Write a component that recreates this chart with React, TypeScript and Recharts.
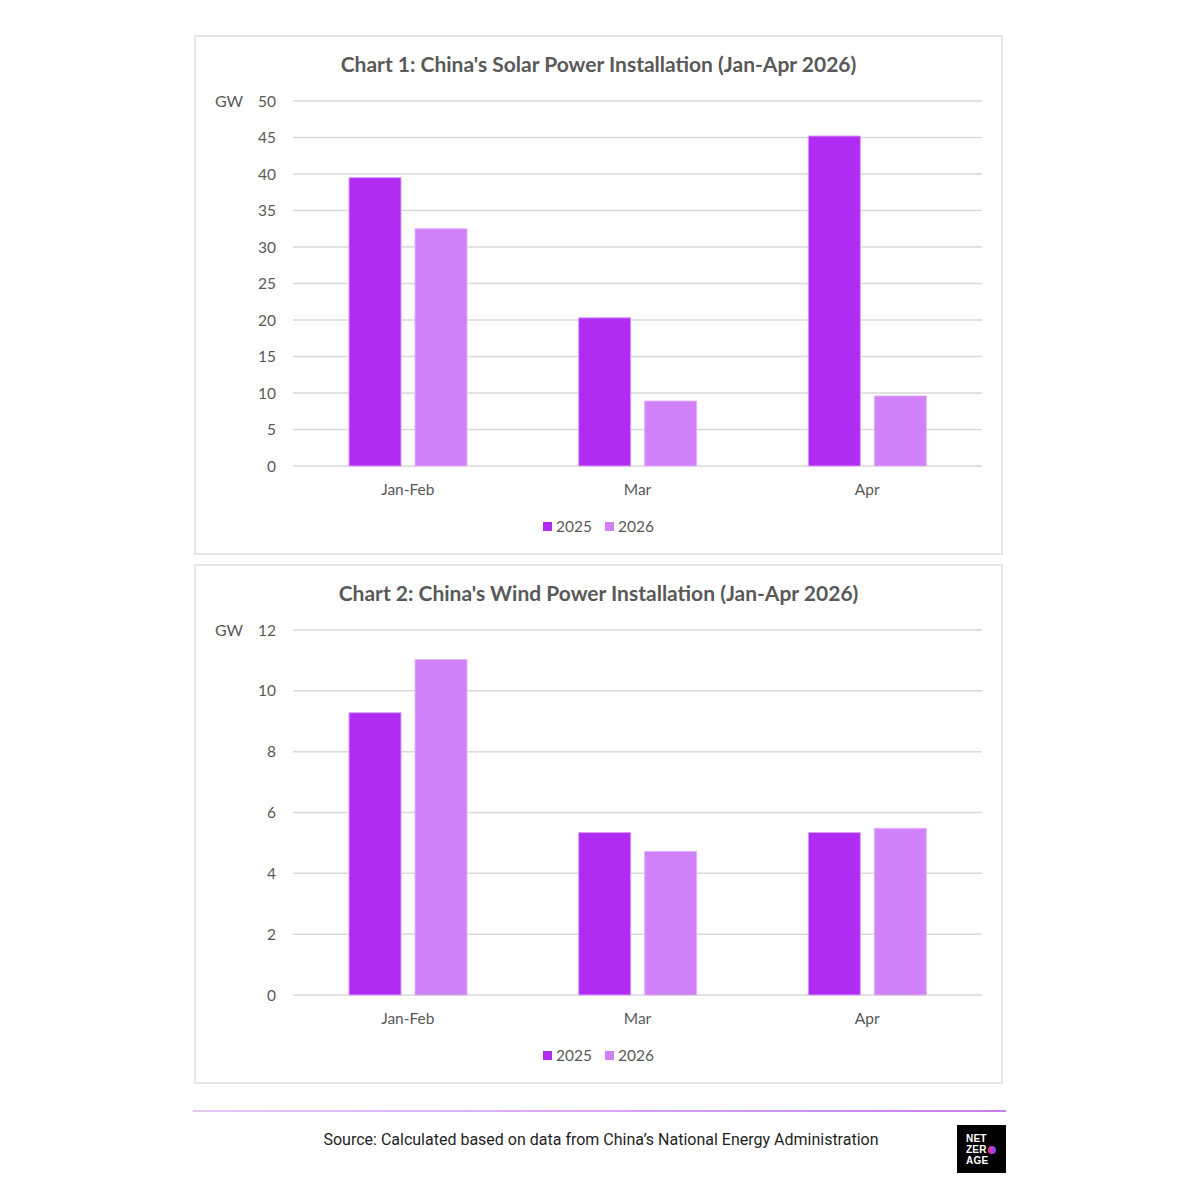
import React from "react";
import { Bar, BarChart, CartesianGrid, Legend, XAxis, YAxis } from "recharts";

const categories = ["Jan-Feb", "Mar", "Apr"];
const seriesNames = ["2025", "2026"];

const solar2025 = [39.5, 20.3, 45.2];
const solar2026 = [32.5, 8.9, 9.6];
const solarTicks = [0, 5, 10, 15, 20, 25, 30, 35, 40, 45, 50];

const wind2025 = [9.28, 5.34, 5.34];
const wind2026 = [11.03, 4.72, 5.48];
const windTicks = [0, 2, 4, 6, 8, 10, 12];

const C2025 = "#B02CF2";
const C2026 = "#D081F8";
const TEXT = "#595959";
const GRID = "#D9D9D9";
const FONT = "Lato, 'Open Sans', sans-serif";

function buildRows(a: number[], b: number[]) {
  return categories.map((c, i) => ({ cat: c, s2025: a[i], s2026: b[i] }));
}

function SquareLegend() {
  const colors = [C2025, C2026];
  return (
    <div style={{ display: "flex", justifyContent: "center", gap: 13, fontFamily: FONT, fontSize: 15.5, color: TEXT }}>
      {seriesNames.map((n, i) => (
        <span key={n} style={{ display: "flex", alignItems: "center", gap: 4 }}>
          <span style={{ width: 9, height: 9, background: colors[i], display: "inline-block" }} />
          {n}
        </span>
      ))}
    </div>
  );
}

function Panel({
  top,
  title,
  rows,
  ticks,
}: {
  top: number;
  title: string;
  rows: { cat: string; s2025: number; s2026: number }[];
  ticks: number[];
}) {
  const max = ticks[ticks.length - 1];
  return (
    <div
      style={{
        position: "absolute",
        left: 194,
        top,
        width: 809,
        height: 520,
        boxSizing: "border-box",
        border: "2px solid #E6E6E6",
        background: "#fff",
      }}
    >
      <div
        style={{
          position: "absolute",
          top: 14,
          left: 0,
          width: "100%",
          textAlign: "center",
          fontFamily: FONT,
          fontWeight: 700,
          fontSize: 21,
          color: TEXT,
        }}
      >
        {title}
      </div>
      <div
        style={{
          position: "absolute",
          left: 19,
          top: 54,
          fontFamily: FONT,
          fontSize: 16,
          color: TEXT,
        }}
      >
        GW
      </div>
      <div style={{ position: "absolute", left: 0, top: 0 }}>
        <BarChart
          width={805}
          height={516}
          data={rows}
          margin={{ top: 64, right: 19, bottom: 47, left: 0 }}
          barGap={14}
          barSize={52}
        >
          <CartesianGrid vertical={false} stroke={GRID} strokeWidth={1.5} />
          <XAxis
            dataKey="cat"
            axisLine={false}
            tickLine={false}
            tickMargin={12}
            height={40}
            tick={{ fill: TEXT, fontSize: 15.5, fontFamily: FONT }}
          />
          <YAxis
            domain={[0, max]}
            ticks={ticks}
            interval={0}
            axisLine={false}
            tickLine={false}
            tickMargin={11}
            width={97}
            tick={{ fill: TEXT, fontSize: 15.5, fontFamily: FONT }}
          />
          <Legend
            verticalAlign="middle"
            align="center"
            layout="horizontal"
            wrapperStyle={{ top: 480, left: 0, width: 805 }}
            content={<SquareLegend />}
          />
          <Bar dataKey="s2025" name="2025" fill={C2025} stroke="#D99BF9" strokeWidth={1} isAnimationActive={false} />
          <Bar dataKey="s2026" name="2026" fill={C2026} stroke="#E3B4FA" strokeWidth={1} isAnimationActive={false} />
        </BarChart>
      </div>
    </div>
  );
}

export default function App() {
  return (
    <div
      style={{
        position: "absolute",
        left: 0,
        top: 0,
        width: 1200,
        height: 1200,
        background: "#fff",
        overflow: "hidden",
      }}
    >
      <Panel
        top={35}
        title="Chart 1: China's Solar Power Installation (Jan-Apr 2026)"
        rows={buildRows(solar2025, solar2026)}
        ticks={solarTicks}
      />
      <Panel
        top={564}
        title="Chart 2: China's Wind Power Installation (Jan-Apr 2026)"
        rows={buildRows(wind2025, wind2026)}
        ticks={windTicks}
      />
      <div
        style={{
          position: "absolute",
          left: 193,
          top: 1110,
          width: 813,
          height: 2,
          background: "linear-gradient(90deg, #E8C6F8, #D9A6F6 50%, #C57DF0)",
        }}
      />
      <div
        style={{
          position: "absolute",
          left: 0,
          top: 1130,
          width: 1202,
          textAlign: "center",
          fontFamily: "Roboto, 'Noto Sans', sans-serif",
          fontSize: 16,
          color: "#1F1F1F",
        }}
      >
        Source: Calculated based on data from China’s National Energy Administration
      </div>
      <div
        style={{
          position: "absolute",
          left: 957,
          top: 1125,
          width: 49,
          height: 48,
          background: "#000",
          color: "#fff",
          fontFamily: "'Liberation Sans', Arial, sans-serif",
          fontWeight: 700,
          fontSize: 10,
          lineHeight: "11px",
          boxSizing: "border-box",
          padding: "8px 0 0 9px",
          letterSpacing: 0.2,
        }}
      >
        <div>NET</div>
        <div style={{ display: "flex", alignItems: "center" }}>
          ZER
          <span
            style={{
              display: "inline-block",
              width: 8,
              height: 8,
              borderRadius: "50%",
              marginLeft: 1,
              background: "linear-gradient(90deg, #FF2E9A, #6A4BFF)",
            }}
          />
        </div>
        <div>AGE</div>
      </div>
    </div>
  );
}
